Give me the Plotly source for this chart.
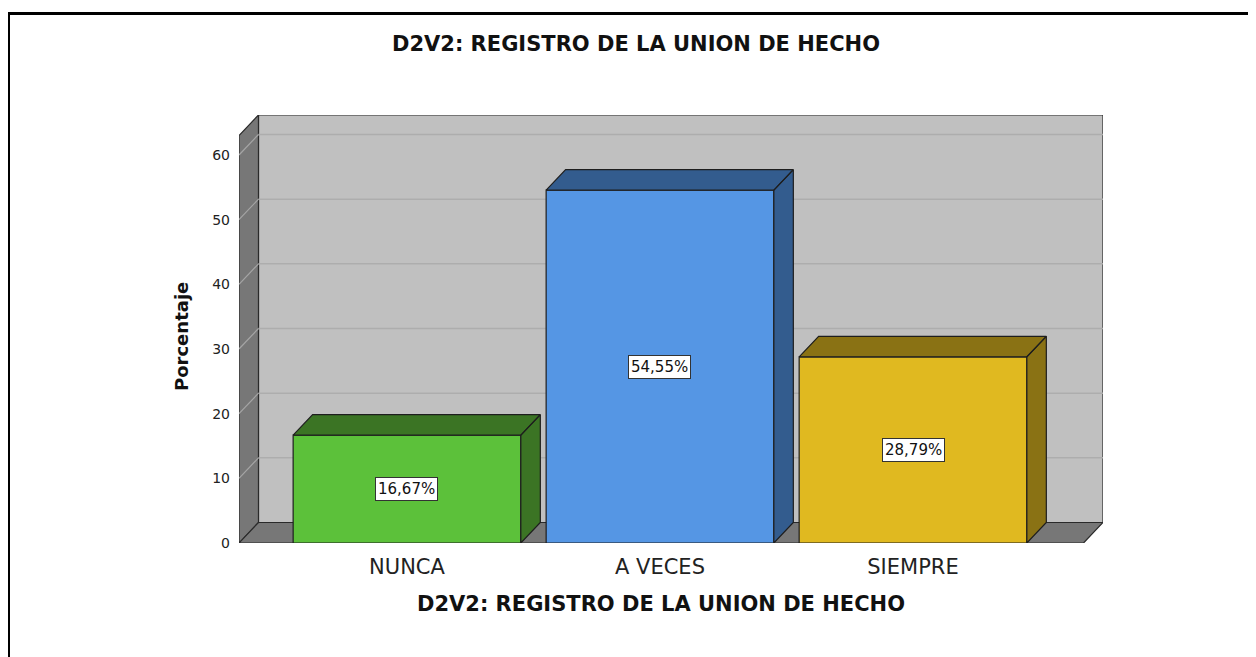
import plotly.graph_objects as go

# ---- data ----
categories = ["NUNCA", "A VECES", "SIEMPRE"]
percentages = [16.67, 54.55, 28.79]
pct_labels = ["16,67%", "54,55%", "28,79%"]
front_colors = ["#5CC13A", "#5596E4", "#E0B920"]
shade_colors = ["#3B7424", "#335C8E", "#8A7214"]
y_ticks = [0, 10, 20, 30, 40, 50, 60]
title_text = "D2V2: REGISTRO DE LA UNION DE HECHO"

# ---- layout geometry (page pixels; the page body has an 8px margin) ----
OFF = 8
W, H = 1256 - OFF, 657 - OFF
L, R, T, B = 239, 1103, 115, 543          # plot area in page pixels
X0, X1 = -0.664, 2.751                     # category axis range
Y0, Y1 = 0, 66.18                          # value axis range
DX, DY = 0.077, 3.17                       # 3D depth offset (axis units)
BAR_W = 0.9

def px_x(p):
    return (p - L) / (R - L)

def px_y(p):
    return (B - p) / (B - T)

FONT = "DejaVu Sans, Verdana, sans-serif"

fig = go.Figure()

# front faces of the bars
fig.add_trace(go.Bar(
    x=list(range(len(categories))), y=percentages, width=BAR_W,
    marker=dict(color=front_colors, line=dict(color="#1e1e1e", width=1.2)),
    hoverinfo="skip", showlegend=False,
))

# top and side faces of the bars
for i, v in enumerate(percentages):
    xl, xr = i - BAR_W / 2, i + BAR_W / 2
    xs = [xl, xl + DX, xr + DX, xr, xl, None, xr, xr + DX, xr + DX, xr, xr]
    ys = [v, v + DY, v + DY, v, v, None, 0, DY, v + DY, v, 0]
    fig.add_trace(go.Scatter(
        x=xs, y=ys, mode="lines", fill="toself",
        fillcolor=shade_colors[i], line=dict(color="#1e1e1e", width=1.2),
        hoverinfo="skip", showlegend=False,
    ))

# value labels
for i, v in enumerate(percentages):
    fig.add_annotation(
        x=i, y=v / 2, text=pct_labels[i], showarrow=False,
        font=dict(family=FONT, size=15, color="#111"),
        bgcolor="white", bordercolor="#333", borderwidth=1, borderpad=2,
    )

shapes = []
# back wall
shapes.append(dict(type="rect", xref="x", yref="y", x0=X0 + DX, x1=X1, y0=DY, y1=Y1,
                   fillcolor="#C0C0C0", line=dict(color="#2a2a2a", width=1.2), layer="below"))
# left wall
shapes.append(dict(type="path", xref="x", yref="y",
                   path=f"M {X0},0 L {X0},{Y1 - DY} L {X0 + DX},{Y1} L {X0 + DX},{DY} Z",
                   fillcolor="#777777", line=dict(color="#2a2a2a", width=1.2), layer="below"))
# floor
shapes.append(dict(type="path", xref="x", yref="y",
                   path=f"M {X0},0 L {X1 - DX},0 L {X1},{DY} L {X0 + DX},{DY} Z",
                   fillcolor="#777777", line=dict(color="#2a2a2a", width=1.2), layer="below"))
# grid lines
for v in y_ticks[1:]:
    shapes.append(dict(type="line", xref="x", yref="y", x0=X0 + DX, x1=X1, y0=v + DY, y1=v + DY,
                       line=dict(color="#ADADAD", width=1.5), layer="below"))
    shapes.append(dict(type="line", xref="x", yref="y", x0=X0, x1=X0 + DX, y0=v, y1=v + DY,
                       line=dict(color="#A5A5A5", width=1.2), layer="below"))
# outer frame
shapes.append(dict(type="rect", xref="paper", yref="paper",
                   x0=px_x(8.5), x1=px_x(1275), y0=px_y(680), y1=px_y(13.5),
                   fillcolor="rgba(0,0,0,0)", line=dict(color="black", width=3)))

fig.update_layout(
    width=W, height=H,
    margin=dict(l=L - OFF, r=(W + OFF) - R, t=T - OFF, b=(H + OFF) - B),
    paper_bgcolor="white", plot_bgcolor="white",
    shapes=shapes,
    xaxis=dict(range=[X0, X1], tickmode="array", tickvals=list(range(len(categories))),
               ticktext=categories, showgrid=False, zeroline=False, showline=False,
               ticks="", ticklabelstandoff=9,
               tickfont=dict(family=FONT, size=21, color="#222")),
    yaxis=dict(range=[Y0, Y1], tickmode="array", tickvals=y_ticks, showgrid=False,
               zeroline=False, showline=False, ticks="", ticklabelstandoff=8,
               tickfont=dict(family=FONT, size=14, color="#222")),
    showlegend=False,
)

# chart title
fig.add_annotation(xref="paper", yref="paper", x=px_x(636), y=px_y(44),
                   text=f"<b>{title_text}</b>", showarrow=False,
                   xanchor="center", yanchor="middle",
                   font=dict(family=FONT, size=21, color="#111"))
# x axis title
fig.add_annotation(xref="paper", yref="paper", x=px_x(661), y=px_y(604),
                   text=f"<b>{title_text}</b>", showarrow=False,
                   xanchor="center", yanchor="middle",
                   font=dict(family=FONT, size=21, color="#111"))
# y axis title
fig.add_annotation(xref="paper", yref="paper", x=px_x(181), y=px_y(337),
                   text="<b>Porcentaje</b>", showarrow=False, textangle=-90,
                   xanchor="center", yanchor="middle",
                   font=dict(family=FONT, size=18, color="#111"))

fig.write_html("out.html")
